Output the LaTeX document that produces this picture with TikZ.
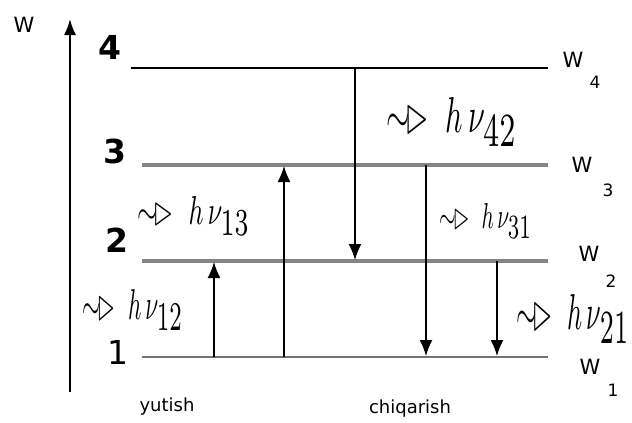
\documentclass[tikz,border=0pt]{standalone}
\usepackage{amssymb}
\usepackage{graphicx}
\usepackage{fontspec}
\setmainfont{DejaVu Sans}
\usetikzlibrary{arrows.meta}
\newcommand{\phot}[3]{\resizebox{#1pt}{#2pt}{$\sim\!\vartriangleright\; h\,\nu_{\scalebox{1.35}{$\scriptstyle #3$}}$}}
\begin{document}
\begin{tikzpicture}[x=1pt,y=-1pt,
  lvlthin/.style={draw=black,line width=1.5pt},
  lvlgray/.style={draw=black!48,line width=3.2pt},
  lvlone/.style={draw=black!55,line width=2.2pt},
  trans/.style={draw=black,line width=1.4pt,-{Latex[length=16pt,width=13pt]}},
  axisline/.style={draw=black,line width=1.8pt,-{Latex[length=16pt,width=12pt]}},
  lbl/.style={inner sep=0pt,font=\fontsize{21}{21}\selectfont},
  sublbl/.style={inner sep=0pt,font=\fontsize{17}{17}\selectfont},
  bignum/.style={inner sep=0pt,font=\fontsize{33}{33}\selectfont\bfseries},
  word/.style={inner sep=0pt,font=\fontsize{18}{18}\selectfont},
  hnu/.style={inner sep=0pt}]
\useasboundingbox (0,0) rectangle (632,423);
% level coordinates
\coordinate (L4a) at (131,68);  \coordinate (L4b) at (548,68);
\coordinate (L3a) at (142,165); \coordinate (L3b) at (548,165);
\coordinate (L2a) at (142,261); \coordinate (L2b) at (548,261);
\coordinate (L1a) at (142,357); \coordinate (L1b) at (548,357);
\draw[lvlthin] (L4a) -- (L4b);
\draw[lvlgray] (L3a) -- (L3b);
\draw[lvlgray] (L2a) -- (L2b);
\draw[lvlone] (L1a) -- (L1b);
% axis
\coordinate (ax0) at (70,392); \coordinate (ax1) at (70,19);
\draw[axisline] (ax0) -- (ax1);
% transitions
\coordinate (a12s) at (214,357); \coordinate (a12e) at (214,262);
\coordinate (a13s) at (284,357); \coordinate (a13e) at (284,166);
\coordinate (a42s) at (355,68);  \coordinate (a42e) at (355,260);
\coordinate (a31s) at (426,165); \coordinate (a31e) at (426,356);
\coordinate (a21s) at (497,261); \coordinate (a21e) at (497,356);
\draw[trans] (a12s) -- (a12e);
\draw[trans] (a13s) -- (a13e);
\draw[trans] (a42s) -- (a42e);
\draw[trans] (a31s) -- (a31e);
\draw[trans] (a21s) -- (a21e);
% axis label
\node[lbl] (Wax) at (24,25) {W};
% level numbers
\node[bignum] (n4) at (110,47) {4};
\node[bignum] (n3) at (115,151) {3};
\node[bignum] (n2) at (117,240) {2};
\node[inner sep=0pt,font=\fontsize{33}{33}\selectfont] (n1) at (118,352) {1};
% W labels
\node[lbl] (W4) at (573,60) {W};  \node[sublbl] (s4) at (595,82) {4};
\node[lbl] (W3) at (582,165) {W}; \node[sublbl] (s3) at (608,190) {3};
\node[lbl] (W2) at (589,254) {W}; \node[sublbl] (s2) at (611,281) {2};
\node[lbl] (W1) at (590,367) {W}; \node[sublbl] (s1) at (613,390) {1};
% photon labels
\node[hnu] (h12) at (133,310) {\phot{100}{30}{12}};
\node[hnu] (h13) at (194,216) {\phot{112}{28}{13}};
\node[hnu] (h42) at (452,122) {\phot{130}{35}{42}};
\node[hnu] (h31) at (486,221) {\phot{92}{25}{31}};
\node[hnu] (h21) at (573,319) {\phot{113}{35}{21}};
% bottom words
\node[word] (yut) at (167,407) {yutish};
\node[word] (chiq) at (410,409) {chiqarish};
\end{tikzpicture}
\end{document}
